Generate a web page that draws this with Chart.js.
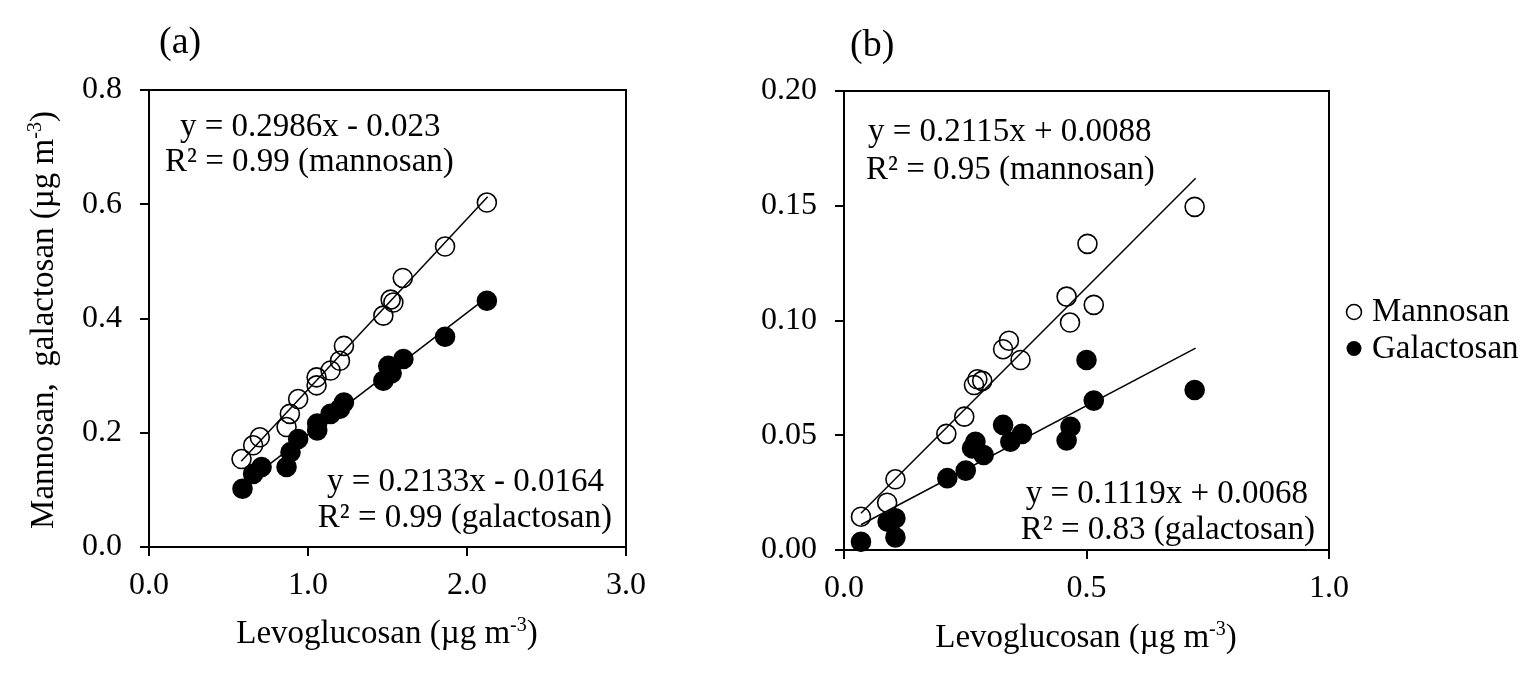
<!DOCTYPE html>
<html>
<head>
<meta charset="utf-8">
<script src="https://cdn.jsdelivr.net/npm/chart.js@4.4.1/dist/chart.umd.min.js"></script>
<style>
  html, body { margin: 0; padding: 0; background: #fff; }
  #wrap { position: relative; width: 1539px; height: 674px; overflow: hidden; background: #fff; }
  canvas { position: absolute; top: 0; }
  #ca { left: 0; }
  #cb { left: 690px; }
</style>
</head>
<body>
<div id="wrap">
  <canvas id="ca" width="690" height="674" style="width:690px;height:674px"></canvas>
  <canvas id="cb" width="849" height="674" style="width:849px;height:674px"></canvas>
</div>
<script>
// ---------- Panel (a) data ----------
const aMannosanX   = [2.125, 1.862, 1.596, 1.520, 1.537, 1.474, 1.226, 1.201, 1.142, 1.054, 1.054, 0.938, 0.886, 0.865, 0.697, 0.655, 0.582];
const aMannosanY   = [0.603, 0.526, 0.471, 0.433, 0.428, 0.405, 0.352, 0.326, 0.309, 0.297, 0.283, 0.259, 0.233, 0.210, 0.192, 0.178, 0.154];
const aGalactosanX = [2.125, 1.862, 1.600, 1.505, 1.526, 1.474, 1.226, 1.201, 1.142, 1.058, 1.058, 0.938, 0.890, 0.865, 0.708, 0.655, 0.588];
const aGalactosanY = [0.431, 0.368, 0.329, 0.317, 0.304, 0.291, 0.253, 0.242, 0.233, 0.216, 0.204, 0.189, 0.166, 0.140, 0.140, 0.128, 0.102];
const aMannosanFitX   = [0.58, 2.13];
const aMannosanFitY   = [0.150, 0.613];
const aGalactosanFitX = [0.58, 2.13];
const aGalactosanFitY = [0.107, 0.438];
const aXTicks = ['0.0', '1.0', '2.0', '3.0'];
const aYTicks = ['0.0', '0.2', '0.4', '0.6', '0.8'];

// ---------- Panel (b) data ----------
const bMannosanX   = [0.723, 0.502, 0.459, 0.515, 0.466, 0.340, 0.328, 0.364, 0.275, 0.285, 0.268, 0.248, 0.211, 0.106, 0.089, 0.035];
const bMannosanY   = [0.1495, 0.1334, 0.1104, 0.1068, 0.0991, 0.0912, 0.0875, 0.0828, 0.0744, 0.0737, 0.0719, 0.0581, 0.0506, 0.0308, 0.0206, 0.0145];
const bGalactosanX = [0.723, 0.500, 0.515, 0.467, 0.459, 0.328, 0.367, 0.343, 0.271, 0.264, 0.288, 0.251, 0.213, 0.106, 0.090, 0.106, 0.035];
const bGalactosanY = [0.0697, 0.0828, 0.0651, 0.0537, 0.0477, 0.0545, 0.0506, 0.0472, 0.0472, 0.0443, 0.0414, 0.0346, 0.0313, 0.0138, 0.0123, 0.0055, 0.0036];
const bMannosanFitX   = [0.035, 0.725];
const bMannosanFitY   = [0.016, 0.162];
const bGalactosanFitX = [0.035, 0.725];
const bGalactosanFitY = [0.011, 0.088];
const bXTicks = ['0.0', '0.5', '1.0'];
const bYTicks = ['0.00', '0.05', '0.10', '0.15', '0.20'];

// ---------- Texts ----------
const xTitle = [{t: 'Levoglucosan (µg m'}, {t: '-3', sup: true}, {t: ')'}];
const yTitleA = [{t: 'Mannosan,  galactosan (µg m'}, {t: '-3', sup: true}, {t: ')'}];
const legendLabels = ['Mannosan', 'Galactosan'];

const FONT = "'Liberation Serif', 'Times New Roman', serif";
const TICK_SIZE = 32;
const TEXT_SIZE = 33;
const PANEL_SIZE = 38;

function pts(xs, ys) { return xs.map((x, i) => ({x: x, y: ys[i]})); }

function drawRich(ctx, parts, x, y, align, size) {
  let w = 0;
  parts.forEach(p => {
    ctx.font = (p.sup ? Math.round(size * 0.62) : size) + 'px ' + FONT;
    p._w = ctx.measureText(p.t).width;
    w += p._w;
  });
  let cx = align === 'center' ? x - w / 2 : (align === 'right' ? x - w : x);
  ctx.textAlign = 'left';
  ctx.textBaseline = 'alphabetic';
  parts.forEach(p => {
    ctx.font = (p.sup ? Math.round(size * 0.62) : size) + 'px ' + FONT;
    ctx.fillText(p.t, cx, p.sup ? y - size * 0.36 : y);
    cx += p._w;
  });
}

function makeDatasets(manX, manY, galX, galY, mfX, mfY, gfX, gfY) {
  return [
    {label: 'Mannosan', data: pts(manX, manY), pointRadius: 9.5, pointHoverRadius: 9.5,
     borderColor: '#000', backgroundColor: 'rgba(0,0,0,0)', borderWidth: 1.6, order: 1, clip: false},
    {label: 'Galactosan', data: pts(galX, galY), pointRadius: 9.5, pointHoverRadius: 9.5,
     borderColor: '#000', backgroundColor: '#000', borderWidth: 1.6, order: 1, clip: false},
    {type: 'line', label: 'fitM', data: pts(mfX, mfY), showLine: true, pointRadius: 0,
     borderColor: '#000', borderWidth: 1.5, fill: false, order: 2},
    {type: 'line', label: 'fitG', data: pts(gfX, gfY), showLine: true, pointRadius: 0,
     borderColor: '#000', borderWidth: 1.5, fill: false, order: 2}
  ];
}

function axis(min, max, step, labels, fixed, isX) {
  const o = {
    type: 'linear', min: min, max: max,
    ticks: {
      stepSize: step, color: '#000', font: {family: FONT, size: TICK_SIZE},
      padding: isX ? 10 : 18, maxRotation: 0, autoSkip: false,
      callback: (v, i) => labels[i]
    },
    grid: {display: true, drawOnChartArea: false, drawTicks: true, tickLength: 9, color: '#000', lineWidth: 2},
    border: {display: true, color: '#000', width: 2}
  };
  o.afterFit = isX ? (s => { s.height = fixed; }) : (s => { s.width = fixed; });
  return o;
}

const boxPlugin = {
  id: 'box',
  afterDraw(chart) {
    const ctx = chart.ctx, a = chart.chartArea;
    ctx.save();
    ctx.strokeStyle = '#000';
    ctx.lineWidth = 2;
    ctx.strokeRect(a.left, a.top, a.right - a.left, a.bottom - a.top);
    ctx.fillStyle = '#000';
    (chart.options.plugins.texts.items || []).forEach(it => {
      if (it.rotate) {
        ctx.save();
        ctx.translate(it.x, it.y);
        ctx.rotate(-Math.PI / 2);
        drawRich(ctx, it.parts, 0, it.size * 0.33, 'center', it.size);
        ctx.restore();
      } else {
        drawRich(ctx, it.parts, it.x, it.y, it.align, it.size);
      }
    });
    const lg = chart.options.plugins.texts.legend;
    if (lg) {
      legendLabels.forEach((lab, i) => {
        const yy = lg.y + i * lg.dy;
        ctx.beginPath();
        ctx.arc(lg.x, yy, 7.5, 0, Math.PI * 2);
        ctx.lineWidth = 1.6;
        if (i === 0) { ctx.stroke(); } else { ctx.fill(); }
        drawRich(ctx, [{t: lab}], lg.x + 18, yy + 9, 'left', TEXT_SIZE);
      });
    }
    ctx.restore();
  }
};

Chart.defaults.font.family = FONT;

new Chart(document.getElementById('ca'), {
  type: 'scatter',
  data: {datasets: makeDatasets(aMannosanX, aMannosanY, aGalactosanX, aGalactosanY,
                                aMannosanFitX, aMannosanFitY, aGalactosanFitX, aGalactosanFitY)},
  options: {
    responsive: false, animation: false, devicePixelRatio: 1,
    layout: {padding: {left: 0, top: 90, right: 64, bottom: 0}},
    scales: {
      x: axis(0, 3, 1, aXTicks, 127, true),
      y: axis(0, 0.8, 0.2, aYTicks, 149, false)
    },
    plugins: {
      legend: {display: false}, tooltip: {enabled: false},
      texts: {items: [
        {parts: [{t: '(a)'}], x: 159, y: 53, align: 'left', size: PANEL_SIZE},
        {parts: [{t: 'y = 0.2986x - 0.023'}], x: 180, y: 136, align: 'left', size: TEXT_SIZE},
        {parts: [{t: 'R² = 0.99 (mannosan)'}], x: 165, y: 171, align: 'left', size: TEXT_SIZE},
        {parts: [{t: 'y = 0.2133x - 0.0164'}], x: 604, y: 491, align: 'right', size: TEXT_SIZE},
        {parts: [{t: 'R² = 0.99 (galactosan)'}], x: 612, y: 527, align: 'right', size: TEXT_SIZE},
        {parts: xTitle, x: 387, y: 643, align: 'center', size: TEXT_SIZE},
        {parts: yTitleA, x: 42, y: 320, rotate: true, size: TEXT_SIZE}
      ]}
    }
  },
  plugins: [boxPlugin]
});

new Chart(document.getElementById('cb'), {
  type: 'scatter',
  data: {datasets: makeDatasets(bMannosanX, bMannosanY, bGalactosanX, bGalactosanY,
                                bMannosanFitX, bMannosanFitY, bGalactosanFitX, bGalactosanFitY)},
  options: {
    responsive: false, animation: false, devicePixelRatio: 1,
    layout: {padding: {left: 0, top: 91, right: 210, bottom: 0}},
    scales: {
      x: axis(0, 1, 0.5, bXTicks, 124, true),
      y: axis(0, 0.2, 0.05, bYTicks, 154, false)
    },
    plugins: {
      legend: {display: false}, tooltip: {enabled: false},
      texts: {
        items: [
          {parts: [{t: '(b)'}], x: 160, y: 56, align: 'left', size: PANEL_SIZE},
          {parts: [{t: 'y = 0.2115x + 0.0088'}], x: 178, y: 141, align: 'left', size: TEXT_SIZE},
          {parts: [{t: 'R² = 0.95 (mannosan)'}], x: 176, y: 179, align: 'left', size: TEXT_SIZE},
          {parts: [{t: 'y = 0.1119x + 0.0068'}], x: 618, y: 503, align: 'right', size: TEXT_SIZE},
          {parts: [{t: 'R² = 0.83 (galactosan)'}], x: 625, y: 539, align: 'right', size: TEXT_SIZE},
          {parts: xTitle, x: 396, y: 647, align: 'center', size: TEXT_SIZE}
        ],
        legend: {x: 664, y: 312, dy: 36.5}
      }
    }
  },
  plugins: [boxPlugin]
});
</script>
</body>
</html>
